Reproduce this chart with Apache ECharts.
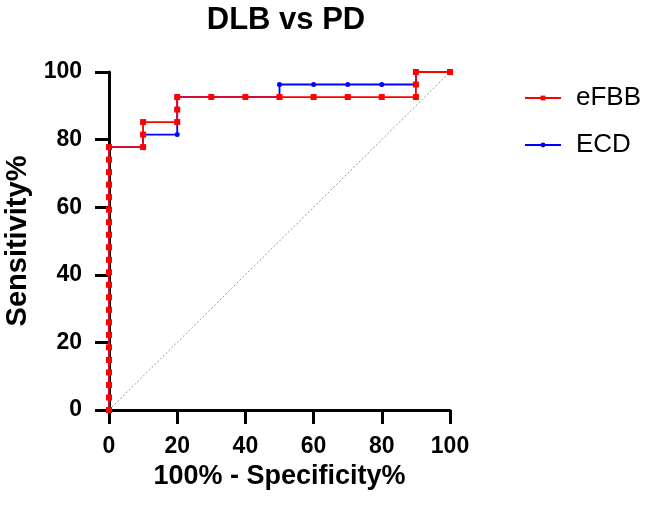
<!DOCTYPE html>
<html><head><meta charset="utf-8">
<script src="https://cdn.jsdelivr.net/npm/echarts@6/dist/echarts.min.js"></script>
<style>html,body{margin:0;padding:0;background:#fff}#c{width:646px;height:505px}</style>
</head><body><div id="c"></div>
<script>
// eFBB ROC points [100-Specificity%, Sensitivity%]
const efbbX = [0,0,0,0,0,0,0,0,0,0,0,0,0,0,0,0,0,0,0,0,0,0,10,10,10,20,20,20,30,40,50,60,70,80,90,90,90,100];
const efbbY = [0,3.70,7.41,11.11,14.81,18.52,22.22,25.93,29.63,33.33,37.04,40.74,44.44,48.15,51.85,55.56,59.26,62.96,66.67,70.37,74.07,77.78,77.78,81.48,85.19,85.19,88.89,92.59,92.59,92.59,92.59,92.59,92.59,92.59,92.59,96.30,100,100];
// ECD ROC points
const ecdX = [0,0,0,0,0,0,0,0,0,0,0,0,0,0,0,0,0,0,0,0,0,0,10,10,20,20,20,20,30,40,50,50,60,70,80,90,90,100];
const ecdY = [0,3.70,7.41,11.11,14.81,18.52,22.22,25.93,29.63,33.33,37.04,40.74,44.44,48.15,51.85,55.56,59.26,62.96,66.67,70.37,74.07,77.78,77.78,81.48,81.48,85.19,88.89,92.59,92.59,92.59,92.59,96.30,96.30,96.30,96.30,96.30,100,100];
const refX = [0,100];
const refY = [0,100];
const zip = (a,b)=>a.map((v,i)=>[v,b[i]]);
const font = 'Liberation Sans, Arial, sans-serif';
const chart = echarts.init(document.getElementById('c'));
chart.setOption({
  animation:false,
  title:{text:'DLB vs PD',left:281,top:0,textAlign:'center',textStyle:{fontFamily:font,fontWeight:'bold',fontSize:31,color:'#000'}},
  grid:{left:109,right:196,top:72,bottom:95,containLabel:false,outerBoundsMode:'none'},
  legend:{left:519,top:80,orient:'vertical',itemGap:21,itemWidth:36,itemHeight:6,
    textStyle:{fontFamily:font,fontSize:26,color:'#000',padding:[0,0,0,10]},
    data:['eFBB','ECD']},
  xAxis:{type:'value',min:0,max:100,interval:20,
    name:'100% - Specificity%',nameLocation:'middle',nameGap:50,
    nameTextStyle:{fontFamily:font,fontWeight:'bold',fontSize:27,color:'#000'},
    axisLine:{onZero:false,lineStyle:{color:'#000',width:3}},
    axisTick:{show:true,length:14,lineStyle:{color:'#000',width:3}},
    axisLabel:{fontFamily:font,fontWeight:'bold',fontSize:23,color:'#000',margin:25},
    splitLine:{show:false}},
  yAxis:{type:'value',min:0,max:100,interval:20,
    name:'Sensitivity%',nameLocation:'middle',nameGap:70,
    nameTextStyle:{fontFamily:font,fontWeight:'bold',fontSize:29,color:'#000'},
    axisLine:{onZero:false,lineStyle:{color:'#000',width:3}},
    axisTick:{show:true,length:14,lineStyle:{color:'#000',width:3}},
    axisLabel:{fontFamily:font,fontWeight:'bold',fontSize:23,color:'#000',margin:27},
    splitLine:{show:false}},
  series:[
    {name:'ref',type:'line',data:zip(refX,refY),symbol:'none',silent:true,
     lineStyle:{color:'#999',width:1,type:[2,2]},z:1},
    {name:'ECD',type:'line',data:zip(ecdX,ecdY),symbol:'circle',symbolSize:5,
     itemStyle:{color:'#0000ff'},lineStyle:{color:'#0000ff',width:1.8},z:2},
    {name:'eFBB',type:'line',data:zip(efbbX,efbbY),symbol:'rect',symbolSize:6,
     itemStyle:{color:'#ff0000'},lineStyle:{color:'#ff0000',width:1.8},z:3}
  ]
});
</script></body></html>
